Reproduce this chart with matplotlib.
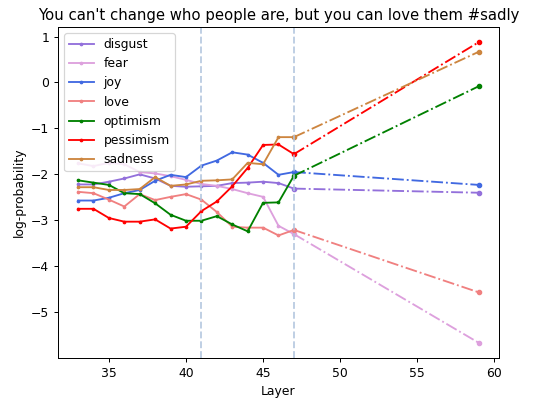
import matplotlib
matplotlib.use("Agg")
import matplotlib.pyplot as plt

title = "You can't change who people are, but you can love them #sadly"
layers = list(range(33, 48))
final_layer = 59
emotions = ["disgust", "fear", "joy", "love", "optimism", "pessimism", "sadness"]
colors = ["mediumpurple", "plum", "royalblue", "lightcoral", "green", "red", "peru"]

disgust = [-2.22, -2.22, -2.16, -2.09, -2.00, -2.09, -2.25, -2.27, -2.26, -2.25, -2.19, -2.18, -2.16, -2.19, -2.31]
fear = [-1.76, -1.82, -1.75, -1.78, -1.95, -1.98, -2.04, -2.12, -2.21, -2.25, -2.32, -2.41, -2.49, -3.12, -3.30]
joy = [-2.57, -2.57, -2.51, -2.41, -2.34, -2.14, -2.01, -2.06, -1.81, -1.70, -1.52, -1.57, -1.75, -2.01, -1.95]
love = [-2.38, -2.41, -2.55, -2.70, -2.43, -2.56, -2.49, -2.43, -2.55, -2.82, -3.14, -3.16, -3.16, -3.33, -3.21]
optimism = [-2.13, -2.18, -2.23, -2.41, -2.43, -2.63, -2.88, -3.01, -3.01, -2.91, -3.09, -3.24, -2.62, -2.61, -2.03]
pessimism = [-2.75, -2.75, -2.95, -3.03, -3.03, -2.98, -3.18, -3.14, -2.80, -2.59, -2.26, -1.86, -1.36, -1.35, -1.56]
sadness = [-2.28, -2.28, -2.34, -2.34, -2.32, -2.06, -2.25, -2.22, -2.14, -2.13, -2.11, -1.75, -1.78, -1.19, -1.19]
final_values = [-2.40, -5.67, -2.23, -4.57, -0.08, 0.88, 0.67]
vlines = [41, 47]

series = [disgust, fear, joy, love, optimism, pessimism, sadness]

DPI = 89
fig = plt.figure(figsize=(533 / DPI, 401 / DPI), dpi=DPI)
ax = fig.add_axes([58 / 533, 43 / 401, 441 / 533, 331 / 401])

for name, col, vals, fv in zip(emotions, colors, series, final_values):
    ax.plot(layers, vals, color=col, marker='.', markersize=4, linewidth=1.5, label=name)
    ax.plot([layers[-1], final_layer], [vals[-1], fv], color=col, marker='.',
            markersize=7, linewidth=1.5, linestyle='-.')

for v in vlines:
    ax.axvline(v, color='lightsteelblue', linestyle='--', linewidth=1.5, alpha=0.85)

ax.set_title(title)
ax.set_xlabel("Layer")
ax.set_ylabel("log-probability")
ax.legend(loc='upper left')
fig.savefig("out.png", dpi=DPI)
